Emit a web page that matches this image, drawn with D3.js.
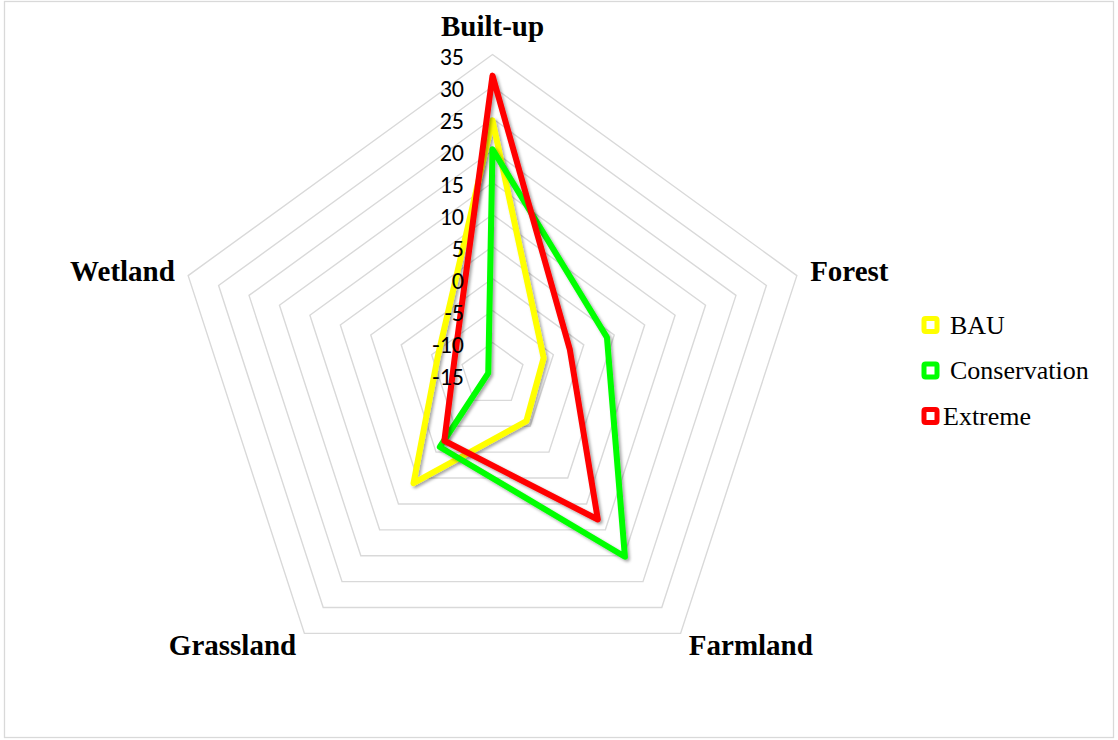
<!DOCTYPE html>
<html>
<head>
<meta charset="utf-8">
<script src="https://cdn.jsdelivr.net/npm/d3@7"></script>
<style>
  html, body { margin: 0; padding: 0; background: #fff; }
  svg { display: block; }
</style>
</head>
<body>
<svg id="chart" width="1118" height="740"></svg>
<script>
// Land-use change by scenario (%), one axis per land class
const categories = ["Built-up", "Forest", "Farmland", "Grassland", "Wetland"];
const seriesNames = ["BAU", "Conservation", "Extreme"];
const bauValues = [24.7, -6.6, -6, 6, -6];
const conservationValues = [20.2, 3.8, 20.2, -1, -14.3];
const extremeValues = [31.7, -2.3, 13, -2.2, -8.7];
const tickValues = [-15, -10, -5, 0, 5, 10, 15, 20, 25, 30, 35];
const seriesColors = ["#FFFF00", "#00FF00", "#FF0000"];

const series = [bauValues, conservationValues, extremeValues];

const svg = d3.select("#chart");
const W = 1118, H = 740;
const cx = 492.5, cy = 374.5, R = 320;

// chart area frame
svg.append("rect")
  .attr("x", 4.5).attr("y", 1.5)
  .attr("width", W - 9).attr("height", H - 4)
  .attr("fill", "#fff")
  .attr("stroke", "#d9d9d9").attr("stroke-width", 1.3);

const defs = svg.append("defs");
const shadow = defs.append("filter").attr("id", "lineShadow")
  .attr("x", "-20%").attr("y", "-20%").attr("width", "140%").attr("height", "140%");
shadow.append("feDropShadow")
  .attr("dx", 2).attr("dy", 2).attr("stdDeviation", 1.8)
  .attr("flood-color", "#000").attr("flood-opacity", 0.35);

const r = d3.scaleLinear().domain([-15, 35]).range([0, R]);
const angle = d3.scalePoint().domain(d3.range(categories.length))
  .range([0, 2 * Math.PI * (categories.length - 1) / categories.length]);

const g = svg.append("g").attr("transform", `translate(${cx},${cy})`);

// pentagonal gridlines
const ringLine = d3.lineRadial()
  .angle((d, i) => angle(i))
  .radius(d => r(d))
  .curve(d3.curveLinearClosed);

g.append("g").selectAll("path")
  .data(tickValues.filter(v => v > -15))
  .join("path")
  .attr("d", v => ringLine(categories.map(() => v)))
  .attr("fill", "none")
  .attr("stroke", "#d9d9d9")
  .attr("stroke-width", 1.4);

// series polygons
const seriesLine = d3.lineRadial()
  .angle((d, i) => angle(i))
  .radius(d => r(d))
  .curve(d3.curveLinearClosed);

g.append("g").selectAll("path")
  .data(series)
  .join("path")
  .attr("d", d => seriesLine(d))
  .attr("fill", "none")
  .attr("stroke", (d, i) => seriesColors[i])
  .attr("stroke-width", 6)
  .attr("stroke-linejoin", "round")
  .attr("filter", "url(#lineShadow)");

// value tick labels along the Built-up axis
g.append("g").selectAll("text")
  .data(tickValues)
  .join("text")
  .attr("x", 464 - cx)
  .attr("y", v => -r(v) + 2)
  .attr("dy", "0.35em")
  .attr("text-anchor", "end")
  .attr("font-family", "Carlito, Calibri, 'Liberation Sans', sans-serif")
  .attr("font-size", 24)
  .attr("fill", "#000")
  .text(v => v);

// category labels
const labelR = R + 14;
g.append("g").selectAll("text")
  .data(categories)
  .join("text")
  .each(function (d, i) {
    const a = angle(i);
    const x = labelR * Math.sin(a);
    let y = -labelR * Math.cos(a);
    let anchor = "middle";
    if (x > 1) anchor = "start";
    else if (x < -1) anchor = "end";
    if (i === 0) y -= 15;
    d3.select(this)
      .attr("x", x).attr("y", y)
      .attr("dy", "0.35em")
      .attr("text-anchor", anchor);
  })
  .attr("font-family", "'Liberation Serif', 'Times New Roman', serif")
  .attr("font-weight", "bold")
  .attr("font-size", 29)
  .attr("fill", "#000")
  .text(d => d);

// legend
const legendY = d3.scalePoint().domain(seriesNames).range([325, 416]);
const legendTextX = { "BAU": 950, "Conservation": 950, "Extreme": 943 };
const legend = svg.append("g").selectAll("g")
  .data(seriesNames)
  .join("g");

legend.append("rect")
  .attr("x", 924).attr("y", d => legendY(d) - 6.5)
  .attr("width", 13).attr("height", 13)
  .attr("rx", 1.5)
  .attr("fill", "#fff")
  .attr("stroke", (d, i) => seriesColors[i])
  .attr("stroke-width", 5);

legend.append("text")
  .attr("x", d => legendTextX[d])
  .attr("y", d => legendY(d) + 8.5)
  .attr("font-family", "'Liberation Serif', 'Times New Roman', serif")
  .attr("font-size", 26)
  .attr("fill", "#000")
  .text(d => d);
</script>
</body>
</html>
